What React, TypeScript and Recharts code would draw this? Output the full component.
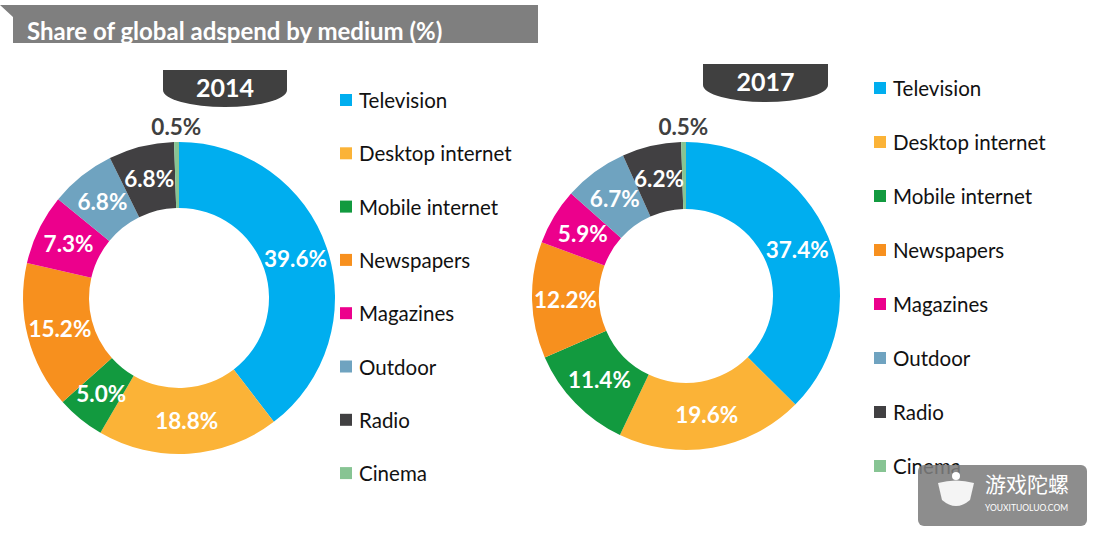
import React from 'react';
import { PieChart, Pie, Cell } from 'recharts';

const categories = ['Television', 'Desktop internet', 'Mobile internet', 'Newspapers', 'Magazines', 'Outdoor', 'Radio', 'Cinema'];
const share2014 = [39.6, 18.8, 5.0, 15.2, 7.3, 6.8, 6.8, 0.5];
const share2017 = [37.4, 19.6, 11.4, 12.2, 5.9, 6.7, 6.2, 0.5];
const years = ['2014', '2017'];
const title = 'Share of global adspend by medium (%)';
const colors = ['#00AEEF', '#FBB337', '#129A3F', '#F7901E', '#EC008C', '#6FA3C0', '#414042', '#87C493'];

const FONT = "Lato, 'Open Sans', sans-serif";
const RAD = Math.PI / 180;

const data2014 = categories.map((name, i) => ({ name, value: share2014[i] }));
const data2017 = categories.map((name, i) => ({ name, value: share2017[i] }));

const renderLabel = (props: any) => {
  const { cx, cy, midAngle, innerRadius, outerRadius, value, index } = props;
  const small = value < 1;
  const r = small ? outerRadius + 16 : (innerRadius + outerRadius) / 2;
  const x = cx + r * Math.cos(-midAngle * RAD);
  const y = cy + r * Math.sin(-midAngle * RAD);
  return (
    <text
      key={`l-${index}`}
      x={x}
      y={y}
      textAnchor="middle"
      dominantBaseline="central"
      fill={small ? '#404040' : '#ffffff'}
      fontFamily={FONT}
      fontWeight={700}
      fontSize={22.5}
    >
      {`${value.toFixed(1)}%`}
    </text>
  );
};

const Legend = ({ x, y0, step }: { x: number; y0: number; step: number }) => (
  <g>
    {categories.map((c, i) => {
      const y = y0 + i * step;
      return (
        <g key={c}>
          <rect x={x} y={y - 6} width={12} height={12} fill={colors[i]} />
          <text x={x + 19} y={y} dominantBaseline="central" fontFamily={FONT} fontSize={20.5} fill="#111">
            {c}
          </text>
        </g>
      );
    })}
  </g>
);

const Badge = ({ x1, x2, top, side, bottom, label }: any) => {
  const cxm = (x1 + x2) / 2;
  const rx = (x2 - x1) / 2;
  const ry = bottom - side;
  return (
    <g>
      <path d={`M${x1},${top} H${x2} V${side} A${rx},${ry} 0 0 1 ${x1},${side} Z`} fill="#404040" />
      <text x={cxm} y={(top + bottom) / 2 - 2} textAnchor="middle" dominantBaseline="central" fontFamily={FONT} fontWeight={700} fontSize={25} fill="#fff">
        {label}
      </text>
    </g>
  );
};

export default function App() {
  return (
    <div style={{ position: 'absolute', left: 0, top: 0, width: 1102, height: 537, background: '#fff', overflow: 'hidden' }}>
      <PieChart width={1102} height={537} margin={{ top: 0, right: 0, bottom: 0, left: 0 }}>
        <Pie
          data={data2014}
          dataKey="value"
          nameKey="name"
          cx={179}
          cy={298}
          innerRadius={90}
          outerRadius={156}
          startAngle={90}
          endAngle={-270}
          stroke="none"
          label={renderLabel}
          labelLine={false}
          isAnimationActive={false}
        >
          {data2014.map((d, i) => (
            <Cell key={d.name} fill={colors[i]} />
          ))}
        </Pie>
        <Pie
          data={data2017}
          dataKey="value"
          nameKey="name"
          cx={686}
          cy={296}
          innerRadius={87}
          outerRadius={154}
          startAngle={90}
          endAngle={-270}
          stroke="none"
          label={renderLabel}
          labelLine={false}
          isAnimationActive={false}
        >
          {data2017.map((d, i) => (
            <Cell key={d.name} fill={colors[i]} />
          ))}
        </Pie>
      </PieChart>
      <svg width={1102} height={537} style={{ position: 'absolute', left: 0, top: 0, pointerEvents: 'none' }}>
        <polygon points="0,5 538,5 538,43 13,43 13,17" fill="#7F7F7F" />
        <text x={27} y={30} dominantBaseline="central" fontFamily={FONT} fontWeight={700} fontSize={24} fill="#fff">
          {title}
        </text>
        <Badge x1={163} x2={287} top={70} side={90} bottom={107} label={years[0]} />
        <Badge x1={703} x2={828} top={64} side={85} bottom={102} label={years[1]} />
        <Legend x={340} y0={100} step={53.3} />
        <Legend x={874} y0={88} step={54} />
        <g>
          <rect x={918} y={465} width={169} height={61} rx={6} fill="rgba(125,125,125,0.88)" />
          <path d="M938,483 Q956,478 974,483 L970,500 Q956,512 942,500 Z" fill="#fff" opacity={0.9} />
          <circle cx={956} cy={476} r={4} fill="#fff" />
          <text x={985} y={492} fontFamily="'Noto Sans CJK SC', sans-serif" fontSize={21} fill="#fff">游戏陀螺</text>
          <text x={985} y={511} fontFamily={FONT} fontSize={8.5} fill="#fff">YOUXITUOLUO.COM</text>
        </g>
      </svg>
    </div>
  );
}
